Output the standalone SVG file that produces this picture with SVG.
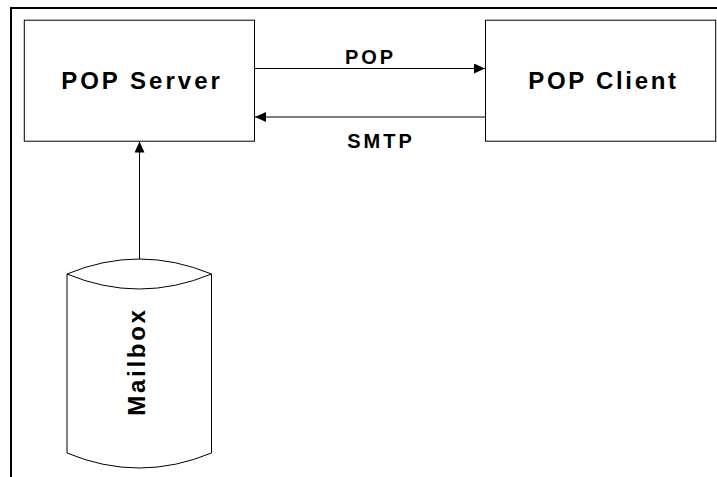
<svg xmlns="http://www.w3.org/2000/svg" width="717" height="477" viewBox="0 0 717 477">
<style>
.s{fill:#fff;stroke:#000;stroke-width:1}
.c{fill:none;stroke:#000;stroke-width:1}
.t{font-family:"Liberation Sans",Arial,sans-serif;font-weight:bold;fill:#000;text-anchor:middle}
.b{font-size:24px;letter-spacing:3px}
.m{letter-spacing:2.700px}
.l{font-size:20px;letter-spacing:3px}
</style>
<defs>
<marker id="a" markerUnits="userSpaceOnUse" markerWidth="12" markerHeight="10" refX="11" refY="5" orient="auto"><path d="M0 0L11 5L0 10Z" fill="#000"/></marker>
</defs>
<rect width="717" height="477" fill="#fff"/>
<path d="M717 8H11V477" fill="none" stroke="#000" stroke-width="2"/>
<g id="connectors">
<path class="c" d="M254.500 68.500H485" marker-end="url(#a)"/>
<path class="c" d="M485.500 117H255" marker-end="url(#a)"/>
<path class="c" d="M139.500 259.500V141.500" marker-end="url(#a)"/>
</g>
<g id="pop-server"><rect class="s" x="24.300" y="20.200" width="230.200" height="121"/><text class="t b" x="142" y="88.500">POP Server</text></g>
<g id="pop-client"><rect class="s" x="485.500" y="20.200" width="230.200" height="121"/><text class="t b m" x="603.500" y="88.500">POP Client</text></g>
<g id="mailbox">
<path class="s" d="M67 274Q139 244 211.500 274V453Q139 483 67 453Z"/>
<path class="c" d="M67 274Q139 304 211.500 274"/>
<text class="t b m" transform="translate(144.500 361.500) rotate(-90)">Mailbox</text>
</g>
<g id="labels"><text class="t l" x="370.500" y="63.500">POP</text><text class="t l" x="381" y="147.500">SMTP</text></g>
</svg>
